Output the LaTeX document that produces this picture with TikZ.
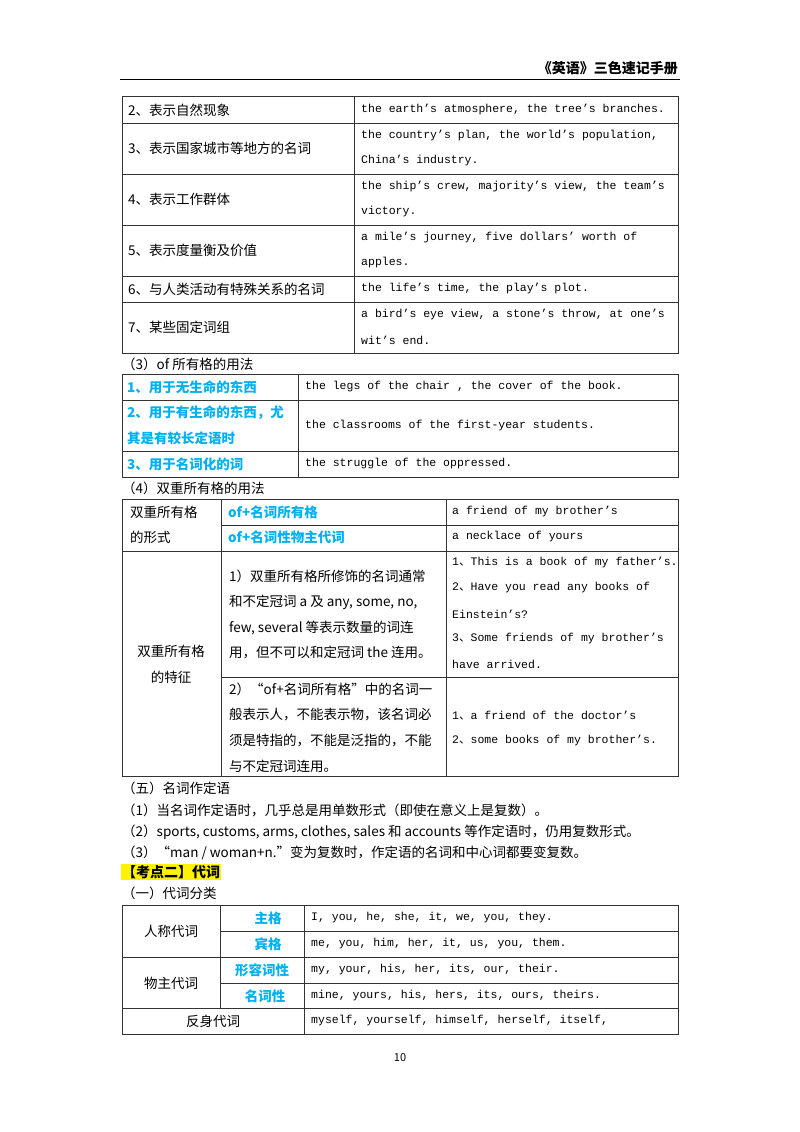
\documentclass[tikz,border=0pt]{standalone}
\usepackage{fontspec}
\setmainfont{Noto Sans CJK SC}
\newfontfamily\mono{Liberation Mono}
\newcommand{\dn}{{\normalfont 、}}
\definecolor{cy}{RGB}{0,176,240}
\begin{document}
\begin{tikzpicture}[x=1pt,y=-1pt,
 t/.style={anchor=west,inner sep=0pt,font=\fontsize{13.5}{15}\selectfont},
 e/.style={anchor=west,inner sep=0pt,font=\mono\fontsize{11.5}{14}\selectfont},
 b/.style={anchor=west,inner sep=0pt,font=\fontsize{13.5}{15}\selectfont\bfseries,text=cy},
 c/.style={inner sep=0pt,font=\fontsize{13.5}{15}\selectfont},
 grid/.style={line width=0.8pt,draw=black!80}]
\useasboundingbox (0,0) rectangle (800,1132);
% header
\node[anchor=east,inner sep=0pt,font=\fontsize{14}{16}\selectfont\bfseries] (hd) at (678,68) {《英语》三色速记手册};
\draw[line width=0.6pt] (120,79) -- (680,79);
% table 1
\draw[grid] (122,96) rectangle (678,353);
\foreach \y in {123,174,225,276,302} \draw[grid] (122,\y) -- (678,\y);
\draw[grid] (354,96) -- (354,353);
\node[t] (a1) at (128,110) {2、表示自然现象};
\node[e] (a2) at (361,110) {the earth’s atmosphere, the tree’s branches.};
\node[t] (a3) at (128,148) {3、表示国家城市等地方的名词};
\node[e] (a4) at (361,136) {the country’s plan, the world’s population,};
\node[e] (a5) at (361,161) { China’s industry.};
\node[t] (a6) at (128,199) {4、表示工作群体};
\node[e] (a7) at (361,187) {the ship’s crew, majority’s view, the team’s};
\node[e] (a8) at (361,212) {victory.};
\node[t] (a9) at (128,250) {5、表示度量衡及价值};
\node[e] (a10) at (361,238) {a mile’s journey, five dollars’ worth of};
\node[e] (a11) at (361,263) {apples.};
\node[t] (a12) at (128,289) {6、与人类活动有特殊关系的名词};
\node[e] (a13) at (361,289) {the life’s time, the play’s plot.};
\node[t] (a14) at (128,327) {7、某些固定词组};
\node[e] (a15) at (361,315) {a bird’s eye view, a stone’s throw, at one’s};
\node[e] (a16) at (361,340) {wit’s end.};
\node[t] (h3) at (122,364) {（3）of 所有格的用法};
% table 2
\draw[grid] (122,374) rectangle (678,477);
\foreach \y in {400,451} \draw[grid] (122,\y) -- (678,\y);
\draw[grid] (298,374) -- (298,477);
\node[b] (b1) at (127,387) {1、用于无生命的东西};
\node[e] (b2) at (305,387) {the legs of the chair , the cover of the book.};
\node[b] (b3) at (127,413) {2、用于有生命的东西，尤};
\node[b] (b4) at (127,438) {其是有较长定语时};
\node[e] (b5) at (305,426) {the classrooms of the first-year students.};
\node[b] (b6) at (127,464) {3、用于名词化的词};
\node[e] (b7) at (305,464) {the struggle of the oppressed.};
\node[t] (h4) at (122,488) {（4）双重所有格的用法};
% table 3
\draw[grid] (122,499) rectangle (678,776);
\draw[grid] (221,525) -- (678,525);
\draw[grid] (122,551) -- (678,551);
\draw[grid] (221,677) -- (678,677);
\draw[grid] (221,499) -- (221,776);
\draw[grid] (446,499) -- (446,776);
\node[t] (c1) at (130,512) {双重所有格};
\node[t] (c2) at (130,537) {的形式};
\node[b] (c3) at (228,512) {of+名词所有格};
\node[e] (c4) at (452,512) {a friend of my brother’s};
\node[b] (c5) at (228,537) {of+名词性物主代词};
\node[e] (c6) at (452,537) {a necklace of yours};
\node[c] (c7) at (171,651) {双重所有格};
\node[c] (c8) at (171,677) {的特征};
\node[t] (d1) at (229,576) {1）双重所有格所修饰的名词通常};
\node[t] (d2) at (229,602) {和不定冠词 a 及 any, some, no,};
\node[t] (d3) at (229,628) {few, several 等表示数量的词连};
\node[t] (d4) at (229,652) {用，但不可以和定冠词 the 连用。};
\node[e] (d5) at (452,563) {1\dn This is a book of my father’s.};
\node[e] (d6) at (452,588) {2\dn Have you read any books of};
\node[e] (d7) at (452,614) {Einstein’s?};
\node[e] (d8) at (452,639) {3\dn Some friends of my brother’s};
\node[e] (d9) at (452,664) {have arrived.};
\node[t] (f1) at (229,689) {2）“of+名词所有格”中的名词一};
\node[t] (f2) at (229,715) {般表示人，不能表示物，该名词必};
\node[t] (f3) at (229,741) {须是特指的，不能是泛指的，不能};
\node[t] (f4) at (229,766) {与不定冠词连用。};
\node[e] (f5) at (452,716) {1\dn a friend of the doctor’s};
\node[e] (f6) at (452,741) {2\dn some books of my brother’s.};
% section 5
\node[t] (g1) at (122,788) {（五）名词作定语};
\node[t] (g2) at (122,810) {（1）当名词作定语时，几乎总是用单数形式（即使在意义上是复数）。};
\node[t] (g3) at (122,832) {（2）sports, customs, arms, clothes, sales 和 accounts 等作定语时，仍用复数形式。};
\node[t] (g4) at (122,853) {（3）“man / woman+n.”变为复数时，作定语的名词和中心词都要变复数。};
\node[anchor=west,inner sep=1pt,fill=yellow,font=\fontsize{14}{16}\selectfont\bfseries] (k) at (121,872) {【考点二】代词};
\node[t] (g5) at (122,893) {（一）代词分类};
% table 4
\draw[grid] (122,905) rectangle (678,1034);
\draw[grid] (220,931) -- (678,931);
\draw[grid] (122,957) -- (678,957);
\draw[grid] (220,983) -- (678,983);
\draw[grid] (122,1008) -- (678,1008);
\draw[grid] (220,905) -- (220,1008);
\draw[grid] (304,905) -- (304,1034);
\node[c] (p1) at (171,931) {人称代词};
\node[c] (p2) at (171,983) {物主代词};
\node[c] (p3) at (213,1021) {反身代词};
\node[c,font=\fontsize{13.5}{15}\selectfont\bfseries,text=cy] (q1) at (268,918) {主格};
\node[c,font=\fontsize{13.5}{15}\selectfont\bfseries,text=cy] (q2) at (268,944) {宾格};
\node[c,font=\fontsize{13.5}{15}\selectfont\bfseries,text=cy] (q3) at (262,970) {形容词性};
\node[c,font=\fontsize{13.5}{15}\selectfont\bfseries,text=cy] (q4) at (265,996) {名词性};
\node[e] (r1) at (311,918) {I, you, he, she, it, we, you, they.};
\node[e] (r2) at (311,944) {me, you, him, her, it, us, you, them.};
\node[e] (r3) at (311,970) {my, your, his, her, its, our, their.};
\node[e] (r4) at (311,996) {mine, yours, his, hers, its, ours, theirs.};
\node[e] (r5) at (311,1021) {myself, yourself, himself, herself, itself,};
\node[c,font=\fontsize{11}{13}\selectfont] (pg) at (400,1058) {10};
\end{tikzpicture}
\end{document}
